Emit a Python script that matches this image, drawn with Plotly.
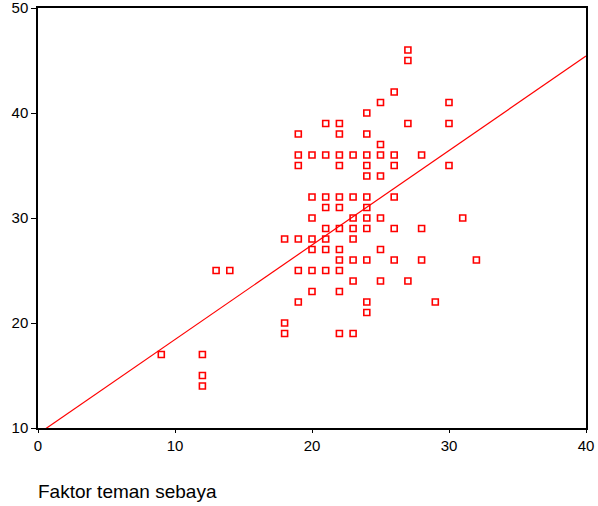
import plotly.graph_objects as go
import numpy as np

# Data (Faktor teman sebaya vs. outcome score)
x_vals = [9,
          12, 12, 12,
          13, 14,
          18, 18, 18,
          19, 19, 19, 19, 19, 19,
          20, 20, 20, 20, 20, 20, 20,
          21, 21, 21, 21, 21, 21, 21, 21,
          22, 22, 22, 22, 22, 22, 22, 22, 22, 22, 22, 22,
          23, 23, 23, 23, 23, 23, 23, 23,
          24, 24, 24, 24, 24, 24, 24, 24, 24, 24, 24, 24,
          25, 25, 25, 25, 25, 25, 25,
          26, 26, 26, 26, 26, 26,
          27, 27, 27, 27,
          28, 28, 28,
          29,
          30, 30, 30,
          31,
          32]
y_vals = [17,
          17, 15, 14,
          25, 25,
          28, 20, 19,
          38, 36, 35, 28, 25, 22,
          36, 32, 30, 28, 27, 25, 23,
          39, 36, 32, 31, 29, 28, 27, 25,
          39, 38, 36, 35, 32, 31, 29, 27, 26, 25, 23, 19,
          36, 32, 30, 29, 28, 26, 24, 19,
          40, 38, 36, 35, 34, 32, 31, 30, 29, 26, 22, 21,
          41, 37, 36, 34, 30, 27, 24,
          42, 36, 35, 32, 29, 26,
          46, 45, 39, 24,
          36, 29, 26,
          22,
          41, 39, 35,
          30,
          26]

# Fit line coefficients
fit_intercept = 9.43
fit_slope = 0.90

x_range = [0, 40]
y_range = [10, 50]
x_ticks = [0, 10, 20, 30, 40]
y_ticks = [10, 20, 30, 40, 50]
x_title = "Faktor teman sebaya"

RED = "#FF0000"

fig = go.Figure()

# Regression line across the x range
line_x = np.array(x_range, dtype=float)
line_y = fit_intercept + fit_slope * line_x
fig.add_trace(go.Scatter(
    x=line_x, y=line_y, mode="lines",
    line=dict(color=RED, width=1.2),
    hoverinfo="skip", showlegend=False,
))

fig.add_trace(go.Scatter(
    x=x_vals, y=y_vals, mode="markers",
    marker=dict(symbol="square-open", size=6, color=RED,
                line=dict(color=RED, width=1.6)),
    showlegend=False,
))

axis_font = dict(family="Liberation Sans, Arial, sans-serif", size=15, color="#000000")

fig.update_xaxes(
    range=x_range, tickvals=x_ticks, ticktext=[str(v) for v in x_ticks],
    showgrid=False, zeroline=False, automargin=False, ticklabeloverflow="allow",
    showline=True, linecolor="#000000", linewidth=1.5, mirror=True,
    ticks="outside", ticklen=3, tickcolor="#000000", tickwidth=1,
    tickfont=axis_font,
)
fig.update_yaxes(
    range=y_range, tickvals=y_ticks, ticktext=[str(v) for v in y_ticks],
    showgrid=False, zeroline=False, automargin=False, ticklabeloverflow="allow",
    showline=True, linecolor="#000000", linewidth=1.5, mirror=True,
    ticks="outside", ticklen=5, tickcolor="#000000", tickwidth=1,
    tickfont=axis_font,
)

fig.add_annotation(
    text=x_title, xref="paper", yref="paper", x=0, y=0,
    xanchor="left", yanchor="middle", xshift=-2, yshift=-63,
    showarrow=False,
    font=dict(family="Liberation Sans, Arial, sans-serif", size=19, color="#000000"),
)

fig.update_layout(
    width=598, height=506,
    margin=dict(l=38, r=12, t=8, b=78, autoexpand=False),
    plot_bgcolor="#FFFFFF", paper_bgcolor="#FFFFFF",
)

fig.write_html(
    "out.html",
    config={"displayModeBar": False},
    post_script="document.body.style.margin='0';document.body.style.overflow='hidden';",
)
